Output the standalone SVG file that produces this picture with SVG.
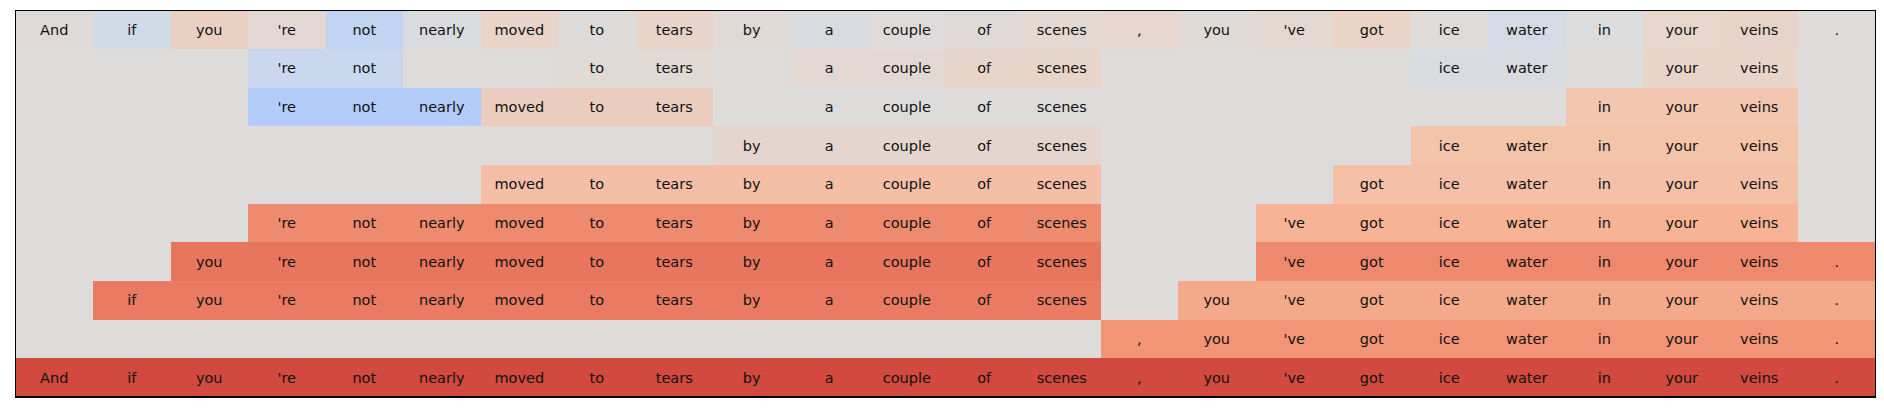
<svg xmlns="http://www.w3.org/2000/svg" width="1884" height="412" viewBox="0 0 1884 412">
<style>
text{font-family:"DejaVu Sans","Liberation Sans",sans-serif;font-size:14.5px;fill:#111;text-anchor:middle}
rect{shape-rendering:crispEdges}
</style>
<rect x="0" y="0" width="1884" height="412" fill="#ffffff"/>
<rect x="15.5" y="10.5" width="1860" height="386.5" fill="#dddcdb"/>
<g id="row0">
<rect x="15.5" y="10.5" width="77.5" height="38.65" fill="#dfdad8"/>
<rect x="93" y="10.5" width="77.5" height="38.65" fill="#d1dae7"/>
<rect x="170.5" y="10.5" width="77.5" height="38.65" fill="#e9d0c3"/>
<rect x="248" y="10.5" width="77.5" height="38.65" fill="#e2d8d3"/>
<rect x="325.5" y="10.5" width="77.5" height="38.65" fill="#c1d4f1"/>
<rect x="403" y="10.5" width="77.5" height="38.65" fill="#d9dbdf"/>
<rect x="480.5" y="10.5" width="77.5" height="38.65" fill="#e8d4c9"/>
<rect x="558" y="10.5" width="77.5" height="38.65" fill="#dedad9"/>
<rect x="635.5" y="10.5" width="77.5" height="38.65" fill="#e8d4c9"/>
<rect x="713" y="10.5" width="77.5" height="38.65" fill="#e1d9d5"/>
<rect x="790.5" y="10.5" width="77.5" height="38.65" fill="#d8dbe0"/>
<rect x="868" y="10.5" width="77.5" height="38.65" fill="#dedbda"/>
<rect x="945.5" y="10.5" width="77.5" height="38.65" fill="#dfdad8"/>
<rect x="1023" y="10.5" width="77.5" height="38.65" fill="#e2d9d3"/>
<rect x="1100.5" y="10.5" width="77.5" height="38.65" fill="#e7d6cd"/>
<rect x="1178" y="10.5" width="77.5" height="38.65" fill="#e0dad7"/>
<rect x="1255.5" y="10.5" width="77.5" height="38.65" fill="#e2d8d2"/>
<rect x="1333" y="10.5" width="77.5" height="38.65" fill="#e9d4c7"/>
<rect x="1410.5" y="10.5" width="77.5" height="38.65" fill="#dfdbd9"/>
<rect x="1488" y="10.5" width="77.5" height="38.65" fill="#d4dbe6"/>
<rect x="1565.5" y="10.5" width="77.5" height="38.65" fill="#dcdcdc"/>
<rect x="1643" y="10.5" width="77.5" height="38.65" fill="#e6d6cb"/>
<rect x="1720.5" y="10.5" width="77.5" height="38.65" fill="#e6d4c9"/>
<rect x="1798" y="10.5" width="77.5" height="38.65" fill="#dfdbd9"/>
<text x="54.25" y="34.8">And</text><text x="131.75" y="34.8">if</text><text x="209.25" y="34.8">you</text><text x="286.75" y="34.8">'re</text><text x="364.25" y="34.8">not</text><text x="441.75" y="34.8">nearly</text><text x="519.25" y="34.8">moved</text><text x="596.75" y="34.8">to</text><text x="674.25" y="34.8">tears</text><text x="751.75" y="34.8">by</text><text x="829.25" y="34.8">a</text><text x="906.75" y="34.8">couple</text><text x="984.25" y="34.8">of</text><text x="1061.75" y="34.8">scenes</text><text x="1139.25" y="34.8">,</text><text x="1216.75" y="34.8">you</text><text x="1294.25" y="34.8">'ve</text><text x="1371.75" y="34.8">got</text><text x="1449.25" y="34.8">ice</text><text x="1526.75" y="34.8">water</text><text x="1604.25" y="34.8">in</text><text x="1681.75" y="34.8">your</text><text x="1759.25" y="34.8">veins</text><text x="1836.75" y="34.8">.</text>
</g>
<g id="row1">
<rect x="248" y="49.15" width="155" height="38.65" fill="#c9d8ef"/>
<rect x="558" y="49.15" width="155" height="38.65" fill="#e1d9d4"/>
<rect x="790.5" y="49.15" width="155" height="38.65" fill="#e2d8d3"/>
<rect x="945.5" y="49.15" width="155" height="38.65" fill="#e8d5ca"/>
<rect x="1410.5" y="49.15" width="155" height="38.65" fill="#d8dbe0"/>
<rect x="1643" y="49.15" width="155" height="38.65" fill="#e8d4c8"/>
<text x="286.75" y="73.45">'re</text><text x="364.25" y="73.45">not</text><text x="596.75" y="73.45">to</text><text x="674.25" y="73.45">tears</text><text x="829.25" y="73.45">a</text><text x="906.75" y="73.45">couple</text><text x="984.25" y="73.45">of</text><text x="1061.75" y="73.45">scenes</text><text x="1449.25" y="73.45">ice</text><text x="1526.75" y="73.45">water</text><text x="1681.75" y="73.45">your</text><text x="1759.25" y="73.45">veins</text>
</g>
<g id="row2">
<rect x="248" y="87.8" width="232.5" height="38.65" fill="#b3cbf8"/>
<rect x="480.5" y="87.8" width="232.5" height="38.65" fill="#ebcdbf"/>
<rect x="790.5" y="87.8" width="310" height="38.65" fill="#dddcdb"/>
<rect x="1565.5" y="87.8" width="232.5" height="38.65" fill="#f2c6af"/>
<text x="286.75" y="112.1">'re</text><text x="364.25" y="112.1">not</text><text x="441.75" y="112.1">nearly</text><text x="519.25" y="112.1">moved</text><text x="596.75" y="112.1">to</text><text x="674.25" y="112.1">tears</text><text x="829.25" y="112.1">a</text><text x="906.75" y="112.1">couple</text><text x="984.25" y="112.1">of</text><text x="1061.75" y="112.1">scenes</text><text x="1604.25" y="112.1">in</text><text x="1681.75" y="112.1">your</text><text x="1759.25" y="112.1">veins</text>
</g>
<g id="row3">
<rect x="713" y="126.45" width="387.5" height="38.65" fill="#e4d6cf"/>
<rect x="1410.5" y="126.45" width="387.5" height="38.65" fill="#f3c3aa"/>
<text x="751.75" y="150.75">by</text><text x="829.25" y="150.75">a</text><text x="906.75" y="150.75">couple</text><text x="984.25" y="150.75">of</text><text x="1061.75" y="150.75">scenes</text><text x="1449.25" y="150.75">ice</text><text x="1526.75" y="150.75">water</text><text x="1604.25" y="150.75">in</text><text x="1681.75" y="150.75">your</text><text x="1759.25" y="150.75">veins</text>
</g>
<g id="row4">
<rect x="480.5" y="165.1" width="620" height="38.65" fill="#f4bfa6"/>
<rect x="1333" y="165.1" width="465" height="38.65" fill="#f4c0a7"/>
<text x="519.25" y="189.4">moved</text><text x="596.75" y="189.4">to</text><text x="674.25" y="189.4">tears</text><text x="751.75" y="189.4">by</text><text x="829.25" y="189.4">a</text><text x="906.75" y="189.4">couple</text><text x="984.25" y="189.4">of</text><text x="1061.75" y="189.4">scenes</text><text x="1371.75" y="189.4">got</text><text x="1449.25" y="189.4">ice</text><text x="1526.75" y="189.4">water</text><text x="1604.25" y="189.4">in</text><text x="1681.75" y="189.4">your</text><text x="1759.25" y="189.4">veins</text>
</g>
<g id="row5">
<rect x="248" y="203.75" width="852.5" height="38.65" fill="#ee8a6e"/>
<rect x="1255.5" y="203.75" width="542.5" height="38.65" fill="#f7b396"/>
<text x="286.75" y="228.05">'re</text><text x="364.25" y="228.05">not</text><text x="441.75" y="228.05">nearly</text><text x="519.25" y="228.05">moved</text><text x="596.75" y="228.05">to</text><text x="674.25" y="228.05">tears</text><text x="751.75" y="228.05">by</text><text x="829.25" y="228.05">a</text><text x="906.75" y="228.05">couple</text><text x="984.25" y="228.05">of</text><text x="1061.75" y="228.05">scenes</text><text x="1294.25" y="228.05">'ve</text><text x="1371.75" y="228.05">got</text><text x="1449.25" y="228.05">ice</text><text x="1526.75" y="228.05">water</text><text x="1604.25" y="228.05">in</text><text x="1681.75" y="228.05">your</text><text x="1759.25" y="228.05">veins</text>
</g>
<g id="row6">
<rect x="170.5" y="242.4" width="930" height="38.65" fill="#e8765f"/>
<rect x="1255.5" y="242.4" width="620" height="38.65" fill="#ee896d"/>
<text x="209.25" y="266.7">you</text><text x="286.75" y="266.7">'re</text><text x="364.25" y="266.7">not</text><text x="441.75" y="266.7">nearly</text><text x="519.25" y="266.7">moved</text><text x="596.75" y="266.7">to</text><text x="674.25" y="266.7">tears</text><text x="751.75" y="266.7">by</text><text x="829.25" y="266.7">a</text><text x="906.75" y="266.7">couple</text><text x="984.25" y="266.7">of</text><text x="1061.75" y="266.7">scenes</text><text x="1294.25" y="266.7">'ve</text><text x="1371.75" y="266.7">got</text><text x="1449.25" y="266.7">ice</text><text x="1526.75" y="266.7">water</text><text x="1604.25" y="266.7">in</text><text x="1681.75" y="266.7">your</text><text x="1759.25" y="266.7">veins</text><text x="1836.75" y="266.7">.</text>
</g>
<g id="row7">
<rect x="93" y="281.05" width="1007.5" height="38.65" fill="#ea7b62"/>
<rect x="1178" y="281.05" width="697.5" height="38.65" fill="#f5a98b"/>
<text x="131.75" y="305.35">if</text><text x="209.25" y="305.35">you</text><text x="286.75" y="305.35">'re</text><text x="364.25" y="305.35">not</text><text x="441.75" y="305.35">nearly</text><text x="519.25" y="305.35">moved</text><text x="596.75" y="305.35">to</text><text x="674.25" y="305.35">tears</text><text x="751.75" y="305.35">by</text><text x="829.25" y="305.35">a</text><text x="906.75" y="305.35">couple</text><text x="984.25" y="305.35">of</text><text x="1061.75" y="305.35">scenes</text><text x="1216.75" y="305.35">you</text><text x="1294.25" y="305.35">'ve</text><text x="1371.75" y="305.35">got</text><text x="1449.25" y="305.35">ice</text><text x="1526.75" y="305.35">water</text><text x="1604.25" y="305.35">in</text><text x="1681.75" y="305.35">your</text><text x="1759.25" y="305.35">veins</text><text x="1836.75" y="305.35">.</text>
</g>
<g id="row8">
<rect x="1100.5" y="319.7" width="775" height="38.65" fill="#f29576"/>
<text x="1139.25" y="344">,</text><text x="1216.75" y="344">you</text><text x="1294.25" y="344">'ve</text><text x="1371.75" y="344">got</text><text x="1449.25" y="344">ice</text><text x="1526.75" y="344">water</text><text x="1604.25" y="344">in</text><text x="1681.75" y="344">your</text><text x="1759.25" y="344">veins</text><text x="1836.75" y="344">.</text>
</g>
<g id="row9">
<rect x="15.5" y="358.35" width="1860" height="38.65" fill="#d1493f"/>
<text x="54.25" y="382.65">And</text><text x="131.75" y="382.65">if</text><text x="209.25" y="382.65">you</text><text x="286.75" y="382.65">'re</text><text x="364.25" y="382.65">not</text><text x="441.75" y="382.65">nearly</text><text x="519.25" y="382.65">moved</text><text x="596.75" y="382.65">to</text><text x="674.25" y="382.65">tears</text><text x="751.75" y="382.65">by</text><text x="829.25" y="382.65">a</text><text x="906.75" y="382.65">couple</text><text x="984.25" y="382.65">of</text><text x="1061.75" y="382.65">scenes</text><text x="1139.25" y="382.65">,</text><text x="1216.75" y="382.65">you</text><text x="1294.25" y="382.65">'ve</text><text x="1371.75" y="382.65">got</text><text x="1449.25" y="382.65">ice</text><text x="1526.75" y="382.65">water</text><text x="1604.25" y="382.65">in</text><text x="1681.75" y="382.65">your</text><text x="1759.25" y="382.65">veins</text><text x="1836.75" y="382.65">.</text>
</g>
<rect id="frame" x="15.5" y="10.5" width="1860" height="386.5" fill="none" stroke="#000" stroke-width="1.2"/>
</svg>
